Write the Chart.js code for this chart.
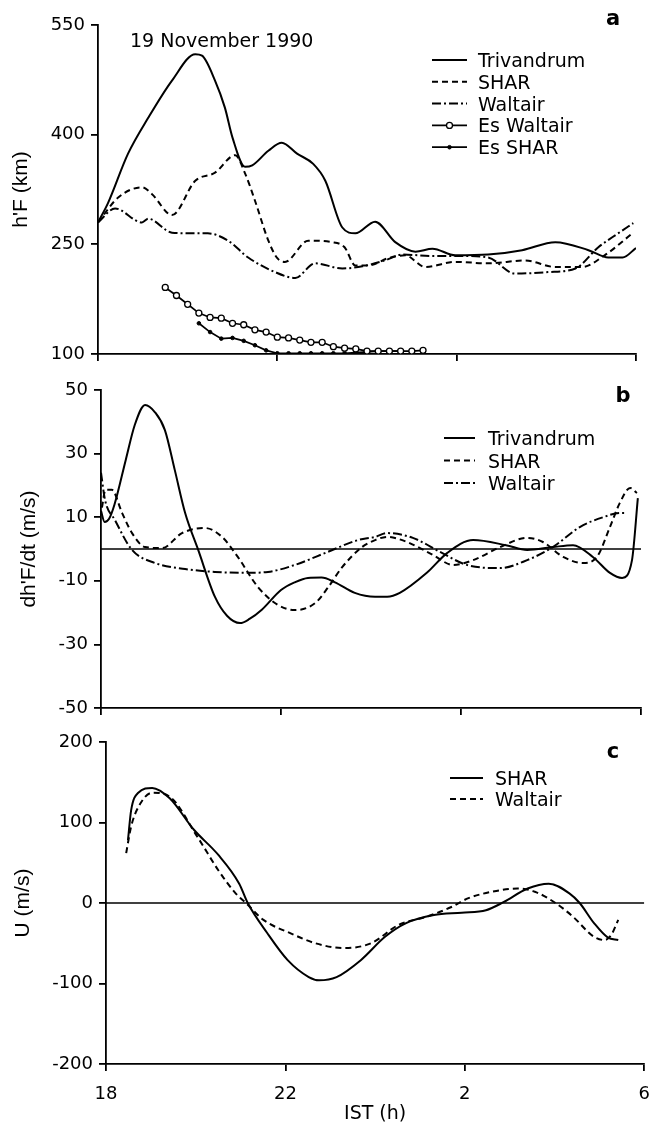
<!DOCTYPE html>
<html>
<head>
<meta charset="utf-8">
<script src="https://cdn.jsdelivr.net/npm/chart.js@4.4.1/dist/chart.umd.min.js"></script>
<style>
  html, body { margin: 0; padding: 0; background: #fff; overflow: hidden; }
  #wrap { position: relative; width: 650px; height: 1126px; overflow: hidden; }
  canvas { position: absolute; left: 0; }
</style>
</head>
<body>
<div id="wrap">
  <canvas id="chartA" width="650" height="372" style="top:0px"></canvas>
  <canvas id="chartB" width="650" height="353" style="top:372px"></canvas>
  <canvas id="chartC" width="663" height="401" style="top:725px"></canvas>
</div>
<script>
// ---- panel a : h'F (km) ----
const trivA_h = [18.0, 18.22, 18.67, 19.12, 19.65, 20.17, 20.32, 20.61, 20.83, 21.0, 21.28, 21.44, 21.8, 22.1, 22.44, 22.8, 23.07, 23.45, 23.74, 24.18, 24.63, 25.08, 25.46, 25.97, 26.7, 27.46, 28.2, 28.94, 29.38, 29.7, 30.0];
const trivA_v = [280, 306, 374, 423, 474, 510, 508, 474, 437, 396, 356, 358, 378, 389, 374, 360, 337, 273, 265, 281, 253, 240, 244, 235, 236, 242, 253, 242, 232, 232, 245];
const sharA_h = [18.0, 18.45, 18.98, 19.2, 19.65, 20.17, 20.61, 21.06, 21.28, 21.5, 21.8, 22.0, 22.17, 22.69, 23.22, 23.5, 23.74, 24.03, 24.47, 24.85, 25.3, 25.97, 26.7, 27.53, 28.2, 28.8, 29.3, 29.92];
const sharA_v = [280, 314, 328, 319, 290, 337, 348, 372, 347, 310, 255, 231, 226, 255, 253, 246, 221, 221, 231, 235, 219, 226, 224, 228, 219, 219, 235, 265];
const waltA_h = [18.0, 18.38, 18.98, 19.12, 19.65, 20.17, 20.45, 20.9, 21.35, 21.95, 22.4, 22.84, 23.45, 23.9, 24.4, 24.79, 25.52, 26.08, 26.7, 27.3, 28.04, 28.65, 29.16, 29.6, 29.94];
const waltA_v = [280, 299, 280, 285, 266, 265, 265, 255, 232, 212, 204, 224, 217, 220, 228, 236, 234, 234, 232, 210, 212, 217, 246, 265, 279];
const esWaltA_h = [19.5, 19.75, 20.0, 20.25, 20.5, 20.75, 21.0, 21.25, 21.5, 21.75, 22.0, 22.25, 22.5, 22.75, 23.0, 23.25, 23.5, 23.75, 24.0, 24.25, 24.5, 24.75, 25.0, 25.25];
const esWaltA_v = [191, 180, 168, 156, 150, 149, 142, 140, 133, 130, 123, 122, 119, 116, 116, 110, 108, 107, 104, 104, 104, 104, 104, 105];
const esSharA_h = [20.25, 20.5, 20.75, 21.0, 21.25, 21.5, 21.75, 22.0, 22.25, 22.5, 22.75, 23.0, 23.25, 23.5, 23.75, 24.0, 24.25, 24.5, 24.75];
const esSharA_v = [142, 130, 121, 122, 118, 112, 105, 101, 101, 101, 101, 101, 101, 101, 102, 103, 104, 104, 104];

// ---- panel b : dh'F/dt (m/s) ----
const trivB_h = [18.0, 18.08, 18.18, 18.3, 18.55, 18.75, 18.98, 19.2, 19.42, 19.64, 19.87, 20.16, 20.53, 20.8, 21.09, 21.3, 21.58, 22.0, 22.3, 22.6, 22.9, 23.2, 23.64, 24.09, 24.36, 24.64, 25.24, 25.69, 26.27, 27.0, 27.47, 28.04, 28.49, 28.93, 29.31, 29.58, 29.8, 29.93];
const trivB_v = [12, 8.5, 9.5, 14, 28, 39, 45.3, 43, 37.4, 24.8, 11.3, -0.3, -15, -21, -23.3, -22, -19, -12.9, -10.5, -9.1, -9, -10.5, -13.8, -15, -15, -13.8, -7.5, -1.3, 2.8, 1.2, -0.3, 0.6, 1.2, -2.5, -7.5, -9.1, -3.5, 16];
const sharB_h = [18.02, 18.1, 18.24, 18.47, 18.69, 18.98, 19.36, 19.8, 20.31, 20.69, 21.04, 21.49, 21.93, 22.31, 22.76, 23.05, 23.36, 23.8, 24.09, 24.36, 24.8, 25.38, 25.82, 26.27, 26.87, 27.47, 27.82, 28.27, 28.71, 29.02, 29.31, 29.53, 29.76, 29.91];
const sharB_v = [13, 18.6, 18.6, 11.3, 5, 0.6, 0.3, 5, 6.6, 3.8, -2.5, -12, -17.6, -19.2, -17, -12, -5.7, 0.6, 2.8, 3.8, 2.2, -1.9, -5, -3.5, 0.6, 3.5, 2.2, -2.5, -4.4, -2.5, 6.9, 14.5, 19.2, 17.6];
const waltB_h = [18.0, 18.09, 18.31, 18.69, 19.2, 19.87, 20.53, 21.2, 21.71, 22.31, 23.04, 23.71, 24.09, 24.36, 24.93, 25.53, 26.13, 26.87, 27.47, 28.04, 28.64, 29.16, 29.53, 29.66];
const waltB_v = [24, 15.4, 9.1, -0.3, -4.4, -6.3, -7.2, -7.5, -7.2, -5, -0.9, 2.8, 3.8, 5, 3.5, -0.9, -5, -6, -3.5, 0.6, 6.9, 10, 11.3, 11.3];

// ---- panel c : U (m/s) ----
const sharC_h = [18.49, 18.56, 18.72, 19.03, 19.42, 19.96, 20.5, 20.97, 21.16, 21.59, 22.05, 22.52, 22.75, 23.14, 23.68, 24.22, 24.69, 25.31, 25.93, 26.47, 26.86, 27.4, 27.87, 28.33, 28.56, 28.88, 29.19, 29.42];
const sharC_v = [78, 115, 137, 143, 130, 91, 60, 24, 0, -37, -71, -92, -96, -92, -71, -42, -25, -15, -12, -9, 1, 18, 24, 12, 0, -25, -43, -46];
const waltC_h = [18.45, 18.56, 18.72, 19.03, 19.42, 20.04, 20.5, 20.89, 21.12, 21.51, 22.13, 22.67, 23.29, 23.91, 24.53, 25.15, 25.7, 26.08, 26.7, 27.17, 27.56, 28.02, 28.41, 28.88, 29.11, 29.26, 29.42];
const waltC_v = [62, 95, 119, 137, 132, 82, 41, 12, 0, -21, -38, -50, -56, -50, -27, -17, -5, 6, 15, 18, 14, 0, -17, -42, -46, -40, -21];

// zero reference line (panels b, c)
const zero_h = [18, 30];
const zero_v = [0, 0];

const xTicks = [18, 22, 26, 30];

Chart.defaults.font.family = '"DejaVu Sans"';
Chart.defaults.color = '#000';

const pts = (h, v) => h.map((x, i) => ({ x: x, y: v[i] }));
const DASH = [6, 4];
const DASHDOT = [9, 3, 2, 3];

function line(label, h, v, dash, extra) {
  return Object.assign({
    label: label,
    data: pts(h, v),
    borderColor: '#000',
    borderWidth: 2,
    borderDash: dash,
    pointRadius: 0,
    fill: false,
    cubicInterpolationMode: 'monotone'
  }, extra || {});
}

function zeroLine() {
  return { data: pts(zero_h, zero_v), borderColor: '#000', borderWidth: 1.7, pointRadius: 0, fill: false };
}

// legend + loose text, drawn on top
function decor(cfg) {
  return {
    id: 'decor',
    afterDatasetsDraw(chart) {
      const ctx = chart.ctx;
      ctx.save();
      ctx.strokeStyle = '#000';
      ctx.fillStyle = '#000';
      const L = cfg.legend;
      let y = L.y;
      chart.data.datasets.forEach(ds => {
        if (!ds.label) return;
        ctx.lineWidth = ds.borderWidth;
        ctx.setLineDash(ds.borderDash || []);
        ctx.beginPath();
        ctx.moveTo(L.x1, y);
        ctx.lineTo(L.x2, y);
        ctx.stroke();
        ctx.setLineDash([]);
        if (ds.pointRadius > 0) {
          ctx.beginPath();
          ctx.arc((L.x1 + L.x2) / 2, y, ds.pointRadius, 0, Math.PI * 2);
          ctx.fillStyle = ds.pointBackgroundColor;
          ctx.fill();
          ctx.lineWidth = ds.pointBorderWidth;
          ctx.stroke();
        }
        ctx.fillStyle = '#000';
        ctx.font = '19px "DejaVu Sans"';
        ctx.textAlign = 'left';
        ctx.textBaseline = 'alphabetic';
        ctx.fillText(ds.label, L.tx, y + 7);
        y += L.dy;
      });
      (cfg.texts || []).forEach(t => {
        ctx.font = t.font;
        ctx.textAlign = t.align || 'left';
        ctx.textBaseline = 'alphabetic';
        ctx.fillText(t.text, t.x, t.y);
      });
      ctx.restore();
    }
  };
}

function xAxis(showLabels, height) {
  return {
    type: 'linear', min: 18, max: 30,
    afterBuildTicks: s => { s.ticks = xTicks.map(v => ({ value: v })); },
    border: { color: '#000', width: 1.8 },
    grid: { drawOnChartArea: false, color: '#000', tickLength: 7, lineWidth: 1.8 },
    ticks: {
      display: showLabels, padding: 13, color: '#000', font: { size: 18 }, maxRotation: 0,
      callback: v => (v >= 24 ? v - 24 : v)
    },
    title: {
      display: showLabels, text: 'IST (h)', color: '#000',
      font: { size: 19 }, padding: { top: 0, bottom: 1 }
    },
    afterFit: s => { s.height = height; }
  };
}

function yAxis(min, max, step, title, titlePad, width) {
  return {
    min: min, max: max,
    border: { color: '#000', width: 1.8 },
    grid: { drawOnChartArea: false, color: '#000', tickLength: 7, lineWidth: 1.8 },
    ticks: { stepSize: step, padding: 6, color: '#000', font: { size: 18 } },
    title: {
      display: true, text: title, color: '#000',
      font: { family: '"Liberation Sans"', size: 21 }, padding: { top: titlePad, bottom: 0 }
    },
    afterFit: s => { s.width = width; }
  };
}

function panel(id, datasets, pad, x, y, deco) {
  return new Chart(document.getElementById(id), {
    type: 'line',
    data: { datasets: datasets },
    options: {
      responsive: false,
      animation: false,
      devicePixelRatio: 1,
      events: [],
      layout: { padding: pad },
      plugins: { legend: { display: false }, tooltip: { enabled: false } },
      scales: { x: x, y: y }
    },
    plugins: [decor(deco)]
  });
}

panel('chartA', [
  line('Trivandrum', trivA_h, trivA_v, []),
  line('SHAR', sharA_h, sharA_v, DASH),
  line('Waltair', waltA_h, waltA_v, DASHDOT),
  line('Es Waltair', esWaltA_h, esWaltA_v, [], {
    cubicInterpolationMode: 'default', tension: 0, borderWidth: 1.7,
    pointRadius: 3, pointBackgroundColor: '#fff', pointBorderColor: '#000', pointBorderWidth: 1.3
  }),
  line('Es SHAR', esSharA_h, esSharA_v, [], {
    cubicInterpolationMode: 'default', tension: 0, borderWidth: 1.7,
    pointRadius: 1.8, pointBackgroundColor: '#000', pointBorderColor: '#000', pointBorderWidth: 1
  })
], { top: 25, right: 14, left: 0, bottom: 0 },
  xAxis(false, 18),
  yAxis(100, 550, 150, "h'F (km)", 9, 98),
  {
    legend: { x1: 432, x2: 467, tx: 478, y: 60, dy: 21.8 },
    texts: [
      { text: '19 November 1990', x: 130, y: 47, font: '19px "DejaVu Sans"' },
      { text: 'a', x: 613, y: 25, align: 'center', font: 'bold 21px "DejaVu Sans"' }
    ]
  });

panel('chartB', [
  line('Trivandrum', trivB_h, trivB_v, []),
  line('SHAR', sharB_h, sharB_v, DASH),
  line('Waltair', waltB_h, waltB_v, DASHDOT),
  zeroLine()
], { top: 18, right: 9, left: 0, bottom: 0 },
  xAxis(false, 17),
  yAxis(-50, 50, 20, "dh'F/dt (m/s)", 17, 101),
  {
    legend: { x1: 444, x2: 475, tx: 488, y: 66, dy: 22.5 },
    texts: [
      { text: 'b', x: 623, y: 30, align: 'center', font: 'bold 21px "DejaVu Sans"' }
    ]
  });

panel('chartC', [
  line('SHAR', sharC_h, sharC_v, []),
  line('Waltair', waltC_h, waltC_v, DASH),
  zeroLine()
], { top: 17, right: 6, left: 0, bottom: 0 },
  xAxis(true, 62),
  yAxis(-200, 200, 100, 'U (m/s)', 11, 106),
  {
    legend: { x1: 450, x2: 483, tx: 495, y: 53, dy: 21 },
    texts: [
      { text: 'c', x: 613, y: 33, align: 'center', font: 'bold 21px "DejaVu Sans"' }
    ]
  });
</script>
</body>
</html>
